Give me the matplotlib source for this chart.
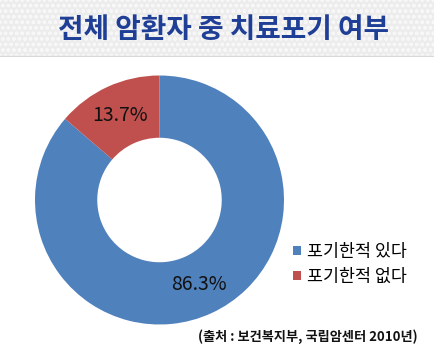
import matplotlib
matplotlib.use("Agg")
import matplotlib.pyplot as plt
from matplotlib.patches import Rectangle

plt.rcParams['font.family'] = ['Noto Sans CJK KR', 'DejaVu Sans']

TITLE = "전체 암환자 중 치료포기 여부"
labels = ["포기한적 있다", "포기한적 없다"]
values = [86.3, 13.7]
colors = ["#4F81BD", "#C0504D"]
SOURCE = "(출처 : 보건복지부, 국립암센터 2010년)"

W, H = 434, 363
fig = plt.figure(figsize=(W / 100, H / 100), dpi=100)
fig.patch.set_facecolor("white")

# title banner
bg = fig.add_axes([0, 1 - 57 / H, 1, 57 / H])
bg.set_xlim(0, 1); bg.set_ylim(0, 1); bg.axis("off")
bg.add_patch(Rectangle((0, 0), 1, 1, fc="#ECECEC", ec="#F7F7F7",
                       hatch="ooo", lw=0))
bg.plot([0, 1], [0.01, 0.01], color="#D8D8D8", lw=1)
bg.text(0.515, 0.47, TITLE, ha="center", va="center", fontsize=20,
        fontweight="heavy", color="#1F3E96")

# donut
cx, cy, r = 159.5, H - 200, 124.5
ax = fig.add_axes([(cx - r) / W, (cy - r) / H, 2 * r / W, 2 * r / H])
wedges, _, autotexts = ax.pie(values, colors=colors, startangle=90,
                              counterclock=False, autopct="%.1f%%",
                              pctdistance=0.75,
                              wedgeprops=dict(width=0.5, lw=0),
                              textprops=dict(fontsize=14, color="#111111"))
ax.set_xlim(-1, 1); ax.set_ylim(-1, 1)
ax.set_aspect("equal")

fig.legend(wedges, labels, loc="upper left",
           bbox_to_anchor=(293 / W, 1 - 243 / H), frameon=False,
           borderpad=0, borderaxespad=0,
           fontsize=12.5, handlelength=0.45, handleheight=0.45,
           handletextpad=0.35, labelspacing=0.4)

fig.text(418 / W, 1 - 337 / H, SOURCE, ha="right", va="center",
         fontsize=9.5, fontweight="bold", color="#111111")

fig.savefig("out.png", dpi=100)
